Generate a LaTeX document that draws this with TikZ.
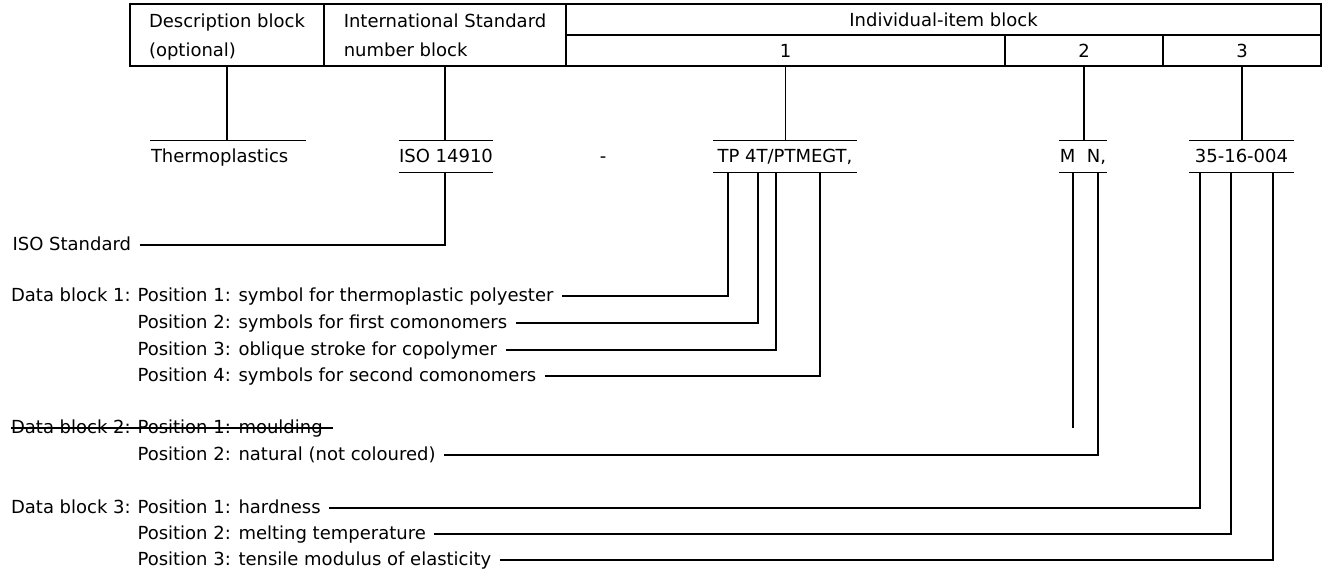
\documentclass[tikz,border=0pt]{standalone}
\usepackage{fontspec}
\setmainfont{DejaVu Sans}
\usetikzlibrary{positioning}
\begin{document}
\begin{tikzpicture}[x=1pt, y=-1pt, line width=1.1pt,
  font=\fontsize{18}{28.5}\selectfont,
  cell/.style={draw, inner sep=0pt, minimum height=31pt},
  twoline/.style={cell, minimum height=62pt, align=left},
  code/.style={inner sep=0pt, minimum height=31pt,
               text height=13pt, text depth=1pt},
  lbl/.style={inner sep=0pt, anchor=west, text height=11pt, text depth=0pt},
  lead/.style={shorten <=8pt}
]
\useasboundingbox (0,0) rectangle (1323,573);

% designation blocks
\node[twoline, minimum width=194pt] (desc) at (227,35)
  {\rule{0pt}{18pt}Description block\\(optional)\rule[-4pt]{0pt}{4pt}};
\node[twoline, minimum width=242pt] (isocell) at (445,35)
  {\rule{0pt}{18pt}International Standard\\number block\rule[-4pt]{0pt}{4pt}};
\node[cell, minimum width=755pt] (indiv) at (943.5,19.5) {Individual-item block};
\node[cell, minimum width=439pt] (c1) at (785.5,50.5) {1};
\node[cell, minimum width=158pt] (c2) at (1084,50.5) {2};
\node[cell, minimum width=158pt] (c3) at (1242,50.5) {3};

% designation
\node[code, text width=154pt, align=left] (thermo) at (228,156.5) {Thermoplastics};
\node[code, minimum width=88pt] (isono) at (446,156.5) {ISO 14910};
\node[code] (sep) at (603,156.5) {-};
\node[code, minimum width=142pt] (tp) at (785,156.5) {TP 4T/PTMEGT,};
\node[code, minimum width=43pt] (mn) at (1083,156.5) {M~~N,};
\node[code, minimum width=103pt] (num) at (1241.5,156.5) {35-16-004};

\draw (thermo.north west) -- (thermo.north east);
\foreach \n in {isono,tp,mn,num}
  \draw (\n.north west) -- (\n.north east) (\n.south west) -- (\n.south east);

\foreach \a/\b in {desc/thermo,isocell/isono,c1/tp,c2/mn,c3/num}
  \draw (\a.south) -- (\a.south |- \b.north);

\coordinate (iso-1) at (445,172);
\coordinate (tp-1) at (728,172);
\coordinate (tp-2) at (758,172);
\coordinate (tp-3) at (776,172);
\coordinate (tp-4) at (820,172);
\coordinate (mn-1) at (1073,172);
\coordinate (mn-2) at (1098,172);
\coordinate (num-1) at (1200,172);
\coordinate (num-2) at (1231,172);
\coordinate (num-3) at (1273,172);

% explanations
\node[lbl] (isostd) at (12,245) {ISO Standard};
\node[lbl] (b1p1) at (137,296) {Position 1: symbol for thermoplastic polyester};
\node[lbl, left=5.7pt of b1p1] (b1) {Data block 1:};
\node[lbl] (b1p2) at (137,323) {Position 2: symbols for first comonomers};
\node[lbl] (b1p3) at (137,350) {Position 3: oblique stroke for copolymer};
\node[lbl] (b1p4) at (137,376) {Position 4: symbols for second comonomers};
\node[lbl] (b2p1) at (137,428) {Position 1: moulding};
\node[lbl, left=5.7pt of b2p1] (b2) {Data block 2:};
\node[lbl] (b2p2) at (137,455) {Position 2: natural (not coloured)};
\node[lbl] (b3p1) at (137,508) {Position 1: hardness};
\node[lbl, left=5.7pt of b3p1] (b3) {Data block 3:};
\node[lbl] (b3p2) at (137,534) {Position 2: melting temperature};
\node[lbl] (b3p3) at (137,560) {Position 3: tensile modulus of elasticity};

\draw[lead] (isostd.east) -| (iso-1);
\foreach \l/\f in {b1p1/tp-1,b1p2/tp-2,b1p3/tp-3,b1p4/tp-4,
                   b2p2/mn-2,b3p1/num-1,b3p2/num-2,b3p3/num-3}
  \draw[lead] (\l.east) -| (\f);
\draw (mn-1) -- (mn-1 |- b2p1.east);
\draw (b2.west) -- ([xshift=10pt]b2p1.east);
\end{tikzpicture}
\end{document}
